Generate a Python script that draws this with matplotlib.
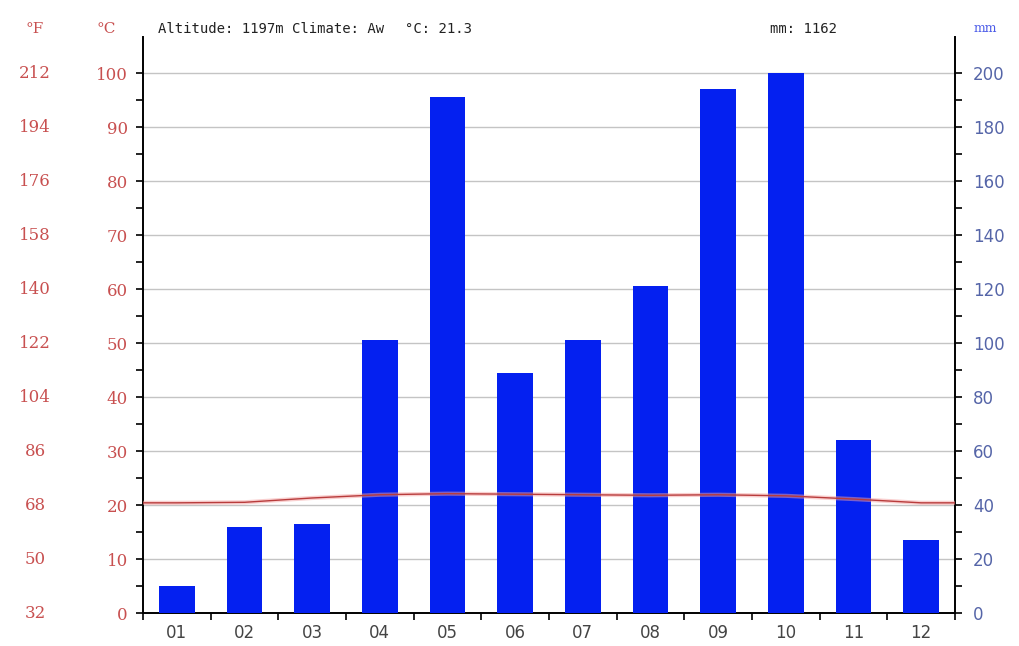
import matplotlib
matplotlib.use("Agg")
import matplotlib.pyplot as plt
import matplotlib.transforms as mtransforms
import numpy as np

months = ["01", "02", "03", "04", "05", "06", "07", "08", "09", "10", "11", "12"]
precip_mm = [10, 32, 33, 101, 191, 89, 101, 121, 194, 200, 64, 27]
temp_c = [20.4, 20.5, 21.3, 21.9, 22.1, 22.0, 21.9, 21.8, 21.9, 21.7, 21.1, 20.4]
celsius_ticks = list(range(0, 101, 10))
mm_ticks = list(range(0, 201, 20))
header_info = "Altitude: 1197m Climate: Aw"
header_temp = "°C: 21.3"
header_mm = "mm: 1162"

W, H = 1020, 646
fig = plt.figure(figsize=(W / 100, H / 100), dpi=100)
fig.patch.set_facecolor("white")

left_px, right_px, top_px, bottom_px = 143, 955, 37, 613
ax2 = fig.add_axes([left_px / W, 1 - bottom_px / H, (right_px - left_px) / W, (bottom_px - top_px) / H])
ax = fig.add_axes(ax2.get_position(), sharex=ax2)
ax.set_zorder(ax2.get_zorder() + 1)
ax.patch.set_visible(False)

top_c = 100 * (bottom_px - top_px) / (bottom_px - 73)
ax.set_ylim(0, top_c)
ax2.set_ylim(0, top_c * 2)
ax2.set_xlim(0, 12)

x = np.arange(len(months)) + 0.5
ax2.bar(x, precip_mm, width=0.53, color="#0420f0", zorder=3)
for v in mm_ticks[1:]:
    ax2.axhline(v, xmin=0, xmax=1, color="#c4c4c4", lw=1.0, zorder=1)

xl = np.concatenate([[0], x, [12]])
yl = np.concatenate([[temp_c[0]], temp_c, [temp_c[-1]]])
ax.plot(xl, yl, color="#f4a0a0", lw=3.0, alpha=0.5, zorder=4, solid_capstyle="butt")
ax.plot(xl, yl, color="#b83c3c", lw=1.0, zorder=5)

# spines
for a in (ax, ax2):
    a.spines["top"].set_visible(False)
ax.spines["right"].set_visible(False)
ax.spines["bottom"].set_visible(False)
ax2.spines["left"].set_visible(False)
ax.spines["left"].set_linewidth(1.4)
ax2.spines["right"].set_linewidth(1.4)
ax2.spines["bottom"].set_linewidth(1.4)

red = "#c85050"
blue_lbl = "#5565a8"
ax.set_yticks(celsius_ticks)
ax.set_yticks(np.arange(5, 100, 10), minor=True)
ax.set_yticklabels([str(c) for c in celsius_ticks], color=red, fontsize=12, family="DejaVu Serif")
ax.tick_params(axis="y", which="both", direction="out", length=5, width=1.2, pad=6)
ax.tick_params(axis="x", which="both", bottom=False, labelbottom=False)

ax2.yaxis.tick_right()
ax2.set_yticks(mm_ticks)
ax2.set_yticks(np.arange(10, 200, 20), minor=True)
ax2.set_yticklabels([str(m) for m in mm_ticks], color=blue_lbl, fontsize=12)
ax2.tick_params(axis="y", which="both", direction="out", length=5, width=1.2, pad=8)

ax2.set_xticks(np.arange(0, 13))
ax2.set_xticklabels([])
ax2.set_xticks(x, minor=True)
ax2.set_xticklabels(months, minor=True, color="#444444", fontsize=12)
ax2.tick_params(axis="x", which="major", direction="out", length=5, width=1.2)
ax2.tick_params(axis="x", which="minor", length=0, pad=8)

# Fahrenheit labels
trans = mtransforms.blended_transform_factory(fig.transFigure, ax.transData)
for c in celsius_ticks:
    f = round(c * 9 / 5 + 32)
    ax.text(35 / W, c, str(f), transform=trans, ha="center", va="center",
            color=red, fontsize=12, family="DejaVu Serif", clip_on=False)

# header
hy = 1 - 29 / H
fig.text(35 / W, hy, "°F", ha="center", va="center", color=red, fontsize=11, family="DejaVu Serif")
fig.text(106 / W, hy, "°C", ha="center", va="center", color=red, fontsize=11, family="DejaVu Serif")
fig.text(158 / W, hy, header_info, ha="left", va="center", color="#222222", fontsize=10, family="DejaVu Sans Mono")
fig.text(405 / W, hy, header_temp, ha="left", va="center", color="#222222", fontsize=10, family="DejaVu Sans Mono")
fig.text(770 / W, hy, header_mm, ha="left", va="center", color="#222222", fontsize=10, family="DejaVu Sans Mono")
fig.text(985 / W, hy, "mm", ha="center", va="center", color="#4a5ae8", fontsize=9, family="DejaVu Serif")

fig.savefig("out.png", dpi=100, facecolor="white")
